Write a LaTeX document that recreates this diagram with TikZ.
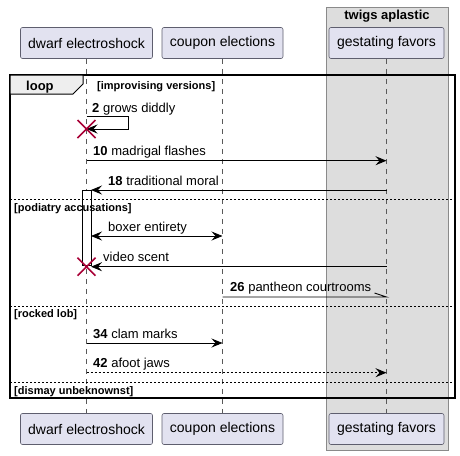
\documentclass[tikz,border=0pt]{standalone}
\usepackage{fontspec}
\setmainfont{Liberation Sans}
\usetikzlibrary{arrows.meta,calc}
\definecolor{partfill}{HTML}{E2E2F0}
\definecolor{partline}{HTML}{5E5E6E}
\definecolor{boxfill}{HTML}{DDDDDD}
\definecolor{boxline}{HTML}{8A8A8A}
\definecolor{tabfill}{HTML}{EEEEEE}
\definecolor{killred}{HTML}{A80036}

\begin{document}
\begin{tikzpicture}[x=1pt,y=-1pt,
  part/.style={draw=partline,fill=partfill,rounded corners=2pt,line width=0.6pt,
    minimum height=31pt,inner sep=0pt,font=\fontsize{14}{16}\selectfont},
  lifeline/.style={draw=black!65,dash pattern=on 5pt off 5pt,line width=0.6pt},
  msg/.style={line width=0.9pt,-{Stealth[length=11pt,width=9pt,inset=4pt]}},
  msgboth/.style={line width=0.9pt,{Stealth[length=11pt,width=9pt,inset=4pt]}-{Stealth[length=11pt,width=9pt,inset=4pt]}},
  lbl/.style={anchor=base west,inner sep=0pt,font=\fontsize{13}{15}\selectfont},
  guard/.style={anchor=base west,inner sep=0pt,font=\fontsize{11}{13}\selectfont\bfseries},
  sep/.style={line width=0.7pt,dash pattern=on 2pt off 2pt},
  kill/.style={draw=killred,line width=1.6pt}]
\useasboundingbox (0,0) rectangle (460,455);
% box round the last participant
\draw [fill=boxfill,draw=boxline,line width=0.8pt] (326,7) rectangle (448,450);
\node [font=\fontsize{13}{15}\selectfont\bfseries] (twigs) at (387,16) {twigs aplastic};
% participants
\node [part,minimum width=132pt] (dwarfT) at (86.5,43) {dwarf electroshock};
\node [part,minimum width=121pt] (couponT) at (222.5,43) {coupon elections};
\node [part,minimum width=115pt] (favorsT) at (386.5,43) {gestating favors};
\node [part,minimum width=132pt] (dwarfB) at (86.5,429) {dwarf electroshock};
\node [part,minimum width=121pt] (couponB) at (222.5,429) {coupon elections};
\node [part,minimum width=115pt] (favorsB) at (386.5,429) {gestating favors};
\draw [lifeline] (dwarfT) -- (dwarfB);
\draw [lifeline] (couponT) -- (couponB);
\draw [lifeline] (favorsT) -- (favorsB);
% activation
\draw [fill=white,line width=0.8pt] (82,190) rectangle (91,265);
% loop frame
\draw [line width=1.5pt] (10,75) rectangle (455,398);
\filldraw [fill=tabfill,line width=1pt] (10,75) -- (83,75) -- (83,84) -- (73,94) -- (10,94) -- cycle;
\node [anchor=base west,inner sep=0pt,font=\fontsize{13}{15}\selectfont\bfseries] (looplbl) at (26,90) {loop};
\node [guard] (g1) at (97,89) {[improvising versions]};
\draw [sep] (10,199) -- (455,199);
\node [guard] (g2) at (14,211.5) {[podiatry accusations]};
\draw [sep] (10,306.7) -- (455,306.7);
\node [guard] (g3) at (14,317.5) {[rocked lob]};
\draw [sep] (10,382) -- (455,382);
\node [guard] (g4) at (14,394) {[dismay unbeknownst]};
% message points
\coordinate (m2a) at (86.5,116);
\coordinate (m2b) at (86.5,129);
\coordinate (m10a) at (86.5,160.7);
\coordinate (m10b) at (386.5,160.7);
\coordinate (m18a) at (386.5,190);
\coordinate (m18b) at (91,190);
\coordinate (mbxa) at (91,236);
\coordinate (mbxb) at (222.5,236);
\coordinate (mvsa) at (386.5,266.7);
\coordinate (mvsb) at (91,266.7);
\coordinate (m26a) at (222.5,297);
\coordinate (m26b) at (386.5,297);
\coordinate (m34a) at (86.5,343);
\coordinate (m34b) at (222.5,343);
\coordinate (m42a) at (86.5,372.7);
\coordinate (m42b) at (386.5,372.7);
% messages
\draw [msg] (m2a) -- (128,116) -- (128,129) -- (m2b);
\node [lbl] (t2) at (92,112) {\textbf{2} grows diddly};
\draw [msg] (m10a) -- (m10b);
\node [lbl] (t10) at (93,155.5) {\textbf{10} madrigal flashes};
\draw [msg] (m18a) -- (m18b);
\node [lbl] (t18) at (108,185.5) {\textbf{18} traditional moral};
\draw [msgboth] (mbxa) -- (mbxb);
\node [lbl] (tbx) at (108,231) {boxer entirety};
\draw [msg] (mvsa) -- (mvsb);
\node [lbl] (tvs) at (103,261.5) {video scent};
\draw [line width=0.9pt] (m26a) -- (m26b) -- ++(-12,-4);
\node [lbl] (t26) at (230,291.5) {\textbf{26} pantheon courtrooms};
\draw [msg] (m34a) -- (m34b);
\node [lbl] (t34) at (93,338) {\textbf{34} clam marks};
\draw [msg,dash pattern=on 2pt off 2pt] (m42a) -- (m42b);
\node [lbl] (t42) at (93,367.5) {\textbf{42} afoot jaws};
% destroyed
\draw [kill] ($(m2b)+(-9,-9)$) -- ++(18,18) ($(m2b)+(-9,9)$) -- ++(18,-18);
\draw [kill] ($(mvsb)+(-13.5,-9)$) -- ++(18,18) ($(mvsb)+(-13.5,9)$) -- ++(18,-18);
\end{tikzpicture}
\end{document}
